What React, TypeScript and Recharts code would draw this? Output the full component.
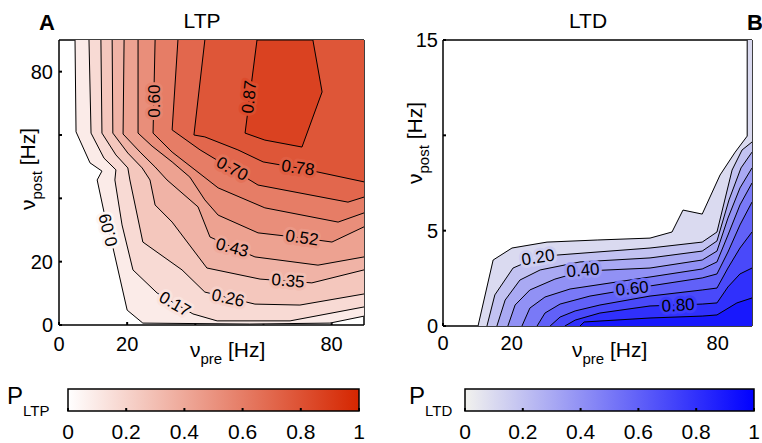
import React from 'react';
import { ScatterChart, Scatter, XAxis, YAxis, ReferenceArea } from 'recharts';

const FONT = '"Liberation Sans", Arial, Helvetica, sans-serif';

type Pt = { x: number; y: number };
type Lbl = { x: number; y: number; text: string; angle: number };

// ---------------- Panel A : LTP ----------------
const ltpXDomain: [number, number] = [0, 89.5];
const ltpYDomain: [number, number] = [0, 90];
const ltpXTicks = [0, 20, 40, 60, 80];
const ltpYTicks = [0, 20, 40, 60, 80];
const ltpXShown = [0, 20, 80];
const ltpYShown = [0, 20, 80];
const ltpLevels = [0.09, 0.17, 0.26, 0.35, 0.43, 0.52, 0.6, 0.7, 0.78, 0.87];

const ltp009: Pt[] = [
  { x: 4.7, y: 90 }, { x: 5.0, y: 61.0 }, { x: 9.1, y: 51.2 }, { x: 12.6, y: 48.6 }, { x: 11.2, y: 45.8 },
  { x: 13.2, y: 35.7 }, { x: 15.8, y: 24.6 }, { x: 20.0, y: 4.7 }, { x: 24.6, y: 0.6 }, { x: 56.0, y: 0.3 },
  { x: 79.5, y: 0.6 }, { x: 89.5, y: 2.8 },
];
const ltp017: Pt[] = [
  { x: 8.8, y: 90 }, { x: 9.4, y: 60.6 }, { x: 13.2, y: 52.7 }, { x: 16.7, y: 49.0 }, { x: 16.4, y: 45.8 },
  { x: 18.5, y: 31.6 }, { x: 21.7, y: 17.4 }, { x: 28.8, y: 10.1 }, { x: 39.3, y: 3.5 }, { x: 46.4, y: 1.3 },
  { x: 67.8, y: 1.3 }, { x: 89.5, y: 5.7 },
];
const ltp026: Pt[] = [
  { x: 12.3, y: 90 }, { x: 12.6, y: 60.6 }, { x: 16.7, y: 53.7 }, { x: 20.2, y: 49.6 }, { x: 20.8, y: 45.8 },
  { x: 24.6, y: 26.2 }, { x: 36.1, y: 17.4 }, { x: 42.8, y: 10.4 }, { x: 57.5, y: 6.6 }, { x: 70.7, y: 6.3 },
  { x: 89.5, y: 9.8 },
];
const ltp035: Pt[] = [
  { x: 15.6, y: 90 }, { x: 15.8, y: 60.6 }, { x: 20.2, y: 54.3 }, { x: 24.4, y: 49.6 }, { x: 26.7, y: 45.8 },
  { x: 28.2, y: 37.9 }, { x: 33.2, y: 32.5 }, { x: 43.4, y: 18.0 }, { x: 59.0, y: 14.5 }, { x: 74.2, y: 13.3 },
  { x: 89.5, y: 17.4 },
];
const ltp043: Pt[] = [
  { x: 19.1, y: 90 }, { x: 18.8, y: 60.3 }, { x: 23.8, y: 54.6 }, { x: 28.2, y: 49.9 }, { x: 31.7, y: 45.8 },
  { x: 40.8, y: 37.3 }, { x: 44.3, y: 27.8 }, { x: 50.8, y: 24.6 }, { x: 57.5, y: 21.5 }, { x: 76.0, y: 18.9 },
  { x: 89.5, y: 21.5 },
];
const ltp052: Pt[] = [
  { x: 23.2, y: 90 }, { x: 23.2, y: 60.6 }, { x: 27.3, y: 56.5 }, { x: 33.2, y: 51.5 }, { x: 38.4, y: 46.7 },
  { x: 42.8, y: 39.5 }, { x: 46.7, y: 34.7 }, { x: 58.4, y: 29.1 }, { x: 71.3, y: 27.5 }, { x: 80.1, y: 26.2 },
  { x: 89.5, y: 31.0 },
];
const ltp060: Pt[] = [
  { x: 28.2, y: 90 }, { x: 27.6, y: 60.6 }, { x: 33.2, y: 54.6 }, { x: 39.9, y: 49.0 }, { x: 46.7, y: 43.3 },
  { x: 60.4, y: 37.0 }, { x: 81.9, y: 32.5 }, { x: 89.5, y: 35.4 },
];
const ltp070: Pt[] = [
  { x: 34.9, y: 90 }, { x: 33.2, y: 61.6 }, { x: 41.4, y: 55.3 }, { x: 51.1, y: 49.0 }, { x: 58.4, y: 44.2 },
  { x: 84.8, y: 38.8 }, { x: 89.5, y: 40.4 },
];
const ltp078: Pt[] = [
  { x: 42.8, y: 90 }, { x: 39.6, y: 60.0 }, { x: 42.8, y: 59.4 }, { x: 52.5, y: 55.3 }, { x: 59.9, y: 51.5 },
  { x: 70.1, y: 49.6 }, { x: 76.0, y: 48.3 }, { x: 89.5, y: 45.2 },
];
const ltp087: Pt[] = [
  { x: 58.1, y: 90 }, { x: 54.6, y: 60.6 }, { x: 60.4, y: 58.4 }, { x: 71.3, y: 56.2 }, { x: 77.2, y: 73.6 },
  { x: 74.5, y: 90 },
];
const ltpOpenLines = [ltp009, ltp017, ltp026, ltp035, ltp043, ltp052, ltp060, ltp070, ltp078];

const ltpLabels: Lbl[] = [
  { x: 14.5, y: 30.0, text: '0.09', angle: -104 },
  { x: 34.0, y: 6.6, text: '0.17', angle: 30 },
  { x: 49.6, y: 8.5, text: '0.26', angle: 12 },
  { x: 67.2, y: 13.9, text: '0.35', angle: 5 },
  { x: 50.8, y: 24.4, text: '0.43', angle: 15 },
  { x: 71.3, y: 27.5, text: '0.52', angle: 8 },
  { x: 27.9, y: 70.7, text: '0.60', angle: -90 },
  { x: 50.8, y: 49.3, text: '0.70', angle: 28 },
  { x: 70.1, y: 49.6, text: '0.78', angle: 8 },
  { x: 55.8, y: 72.0, text: '0.87', angle: -84 },
];

// ---------------- Panel B : LTD ----------------
const ltdXDomain: [number, number] = [0, 90];
const ltdYDomain: [number, number] = [0, 15];
const ltdXTicks = [0, 20, 40, 60, 80];
const ltdYTicks = [0, 5, 10, 15];
const ltdXShown = [0, 20, 80];
const ltdYShown = [0, 5, 15];
const ltdLevels = [0.1, 0.2, 0.3, 0.4, 0.5, 0.6, 0.7, 0.8, 0.9];

const ltd01: Pt[] = [
  { x: 10.2, y: 0 }, { x: 14.6, y: 3.46 }, { x: 20.1, y: 4.09 }, { x: 30.3, y: 4.4 }, { x: 44.9, y: 4.51 },
  { x: 60.3, y: 4.61 }, { x: 66.7, y: 4.93 }, { x: 69.9, y: 6.08 }, { x: 75.5, y: 5.87 }, { x: 80.7, y: 7.92 },
  { x: 85.1, y: 9.12 }, { x: 88.6, y: 9.96 }, { x: 88.6, y: 15 },
];
const ltd02: Pt[] = [
  { x: 12.8, y: 0 }, { x: 15.1, y: 1.63 }, { x: 20.4, y: 3.04 }, { x: 24.5, y: 3.36 }, { x: 33.2, y: 3.72 },
  { x: 60.3, y: 4.09 }, { x: 75.5, y: 4.4 }, { x: 79.8, y: 4.93 }, { x: 84.2, y: 8.18 }, { x: 87.1, y: 9.23 },
  { x: 90, y: 9.65 },
];
const ltd03: Pt[] = [
  { x: 15.7, y: 0 }, { x: 18.1, y: 1.36 }, { x: 22.4, y: 2.41 }, { x: 28.3, y: 2.94 }, { x: 39.9, y: 3.36 },
  { x: 60.3, y: 3.57 }, { x: 75.5, y: 3.93 }, { x: 79.8, y: 4.46 }, { x: 83.3, y: 6.61 }, { x: 86.8, y: 8.29 },
  { x: 90, y: 9.12 },
];
const ltd04: Pt[] = [
  { x: 18.9, y: 0 }, { x: 21.0, y: 1.1 }, { x: 25.3, y: 1.89 }, { x: 32.6, y: 2.46 }, { x: 40.8, y: 2.88 },
  { x: 60.3, y: 3.04 }, { x: 75.5, y: 3.46 }, { x: 79.8, y: 3.93 }, { x: 83.0, y: 5.66 }, { x: 86.5, y: 7.24 },
  { x: 90, y: 8.29 },
];
const ltd05: Pt[] = [
  { x: 23.0, y: 0 }, { x: 25.3, y: 0.94 }, { x: 29.7, y: 1.52 }, { x: 37.0, y: 1.94 }, { x: 60.3, y: 2.57 },
  { x: 75.5, y: 2.99 }, { x: 79.8, y: 3.36 }, { x: 83.0, y: 4.77 }, { x: 86.5, y: 6.35 }, { x: 90, y: 7.5 },
];
const ltd06: Pt[] = [
  { x: 27.4, y: 0 }, { x: 29.7, y: 0.68 }, { x: 34.1, y: 1.15 }, { x: 42.8, y: 1.57 }, { x: 60.3, y: 2.1 },
  { x: 75.5, y: 2.52 }, { x: 79.8, y: 2.73 }, { x: 83.0, y: 3.88 }, { x: 86.5, y: 5.3 }, { x: 90, y: 6.5 },
];
const ltd07: Pt[] = [
  { x: 31.2, y: 0 }, { x: 34.1, y: 0.47 }, { x: 38.5, y: 0.79 }, { x: 45.7, y: 1.1 }, { x: 60.3, y: 1.57 },
  { x: 75.5, y: 1.89 }, { x: 79.8, y: 1.99 }, { x: 83.0, y: 3.04 }, { x: 86.5, y: 4.09 }, { x: 90, y: 4.93 },
];
const ltd08: Pt[] = [
  { x: 35.5, y: 0 }, { x: 38.5, y: 0.31 }, { x: 45.7, y: 0.68 }, { x: 60.3, y: 1.05 }, { x: 75.5, y: 1.15 },
  { x: 79.8, y: 1.21 }, { x: 83.0, y: 2.05 }, { x: 86.5, y: 2.73 }, { x: 90, y: 3.04 },
];
const ltd09: Pt[] = [
  { x: 39.9, y: 0 }, { x: 41.1, y: 0.21 }, { x: 60.3, y: 0.42 }, { x: 75.5, y: 0.52 }, { x: 79.8, y: 0.58 },
  { x: 85.6, y: 1.21 }, { x: 90, y: 1.47 },
];
const ltdLines = [ltd01, ltd02, ltd03, ltd04, ltd05, ltd06, ltd07, ltd08, ltd09];

const ltdLabels: Lbl[] = [
  { x: 27.7, y: 3.6, text: '0.20', angle: -9 },
  { x: 40.8, y: 2.92, text: '0.40', angle: -5 },
  { x: 55.1, y: 1.97, text: '0.60', angle: -6 },
  { x: 68.5, y: 1.08, text: '0.80', angle: -4 },
];

// ---------------- colour bars ----------------
const cbTicks = [0, 0.2, 0.4, 0.6, 0.8, 1];
const cbFrame: Pt[] = [{ x: 0, y: 0 }, { x: 1, y: 1 }];

// ---------------- colour maps ----------------
const ltpColor = (t: number) =>
  `rgb(${Math.round(255 - 42 * t)},${Math.round(255 - 217 * t)},${Math.round(255 - 255 * t)})`;
const ltdColor = (t: number) =>
  `rgb(${Math.round(242 * (1 - t))},${Math.round(242 * (1 - t))},${Math.round(238 + 17 * t)})`;

// ---------------- helpers ----------------
const noPoint = () => <g />;

const pathFrom = (pts: { x: number; y: number }[], close: boolean) =>
  pts.map((p, i) => `${i === 0 ? 'M' : 'L'}${p.x},${p.y}`).join(' ') + (close ? ' Z' : '');

const fillLine = (fill: string) => (props: any) => {
  const pts = props.points || [];
  if (!pts.length) return <g />;
  return <path d={pathFrom(pts, true)} fill={fill} stroke={fill} strokeWidth={0.4} />;
};
const strokeLine = (closed: boolean) => (props: any) => {
  const pts = props.points || [];
  if (!pts.length) return <g />;
  return <path d={pathFrom(pts, closed)} fill="none" stroke="#000" strokeWidth={1} strokeLinejoin="round" />;
};

const makeLabelShape = (levels: number[], color: (t: number) => string) => (props: any) => {
  const { cx, cy, payload } = props;
  if (cx == null || cy == null || !payload) return <g />;
  const v = parseFloat(payload.text);
  let idx = 0;
  levels.forEach((l, i) => { if (Math.abs(l - v) < 1e-6) idx = i; });
  const prev = idx > 0 ? levels[idx - 1] : 0;
  const halo = color((prev + levels[idx]) / 2);
  return (
    <text
      x={cx}
      y={cy}
      transform={`rotate(${payload.angle} ${cx} ${cy})`}
      textAnchor="middle"
      dominantBaseline="central"
      fontSize={17}
      fontFamily={FONT}
      fill="#000"
      stroke={halo}
      strokeWidth={6}
      strokeLinejoin="round"
      paintOrder="stroke"
    >
      {payload.text}
    </text>
  );
};

const tickStyle = { fill: '#000', fontSize: 20, fontFamily: FONT };
const axisLineStyle = { stroke: '#000', strokeWidth: 1.5 };
const tickLineStyle = { stroke: '#000', strokeWidth: 2 };

type Region = { data: Pt[]; fill: string };
type Line = { data: Pt[]; closed: boolean };

function ContourChart(props: {
  width: number; height: number; margin: any; yAxisWidth: number;
  xDomain: [number, number]; yDomain: [number, number];
  xTicks: number[]; yTicks: number[]; xShown: number[]; yShown: number[];
  regions: Region[]; lines: Line[]; labels: Lbl[]; labelShape: any;
  xTickMargin: number; yTickMargin: number;
}) {
  const p = props;
  return (
    <ScatterChart width={p.width} height={p.height} margin={p.margin}>
      {p.regions.map((r, i) => (
        <Scatter key={'reg' + i} data={r.data} dataKey="y" line={fillLine(r.fill)} shape={noPoint} isAnimationActive={false} />
      ))}
      {p.lines.map((l, i) => (
        <Scatter key={'lin' + i} data={l.data} dataKey="y" line={strokeLine(l.closed)} shape={noPoint} isAnimationActive={false} />
      ))}
      <Scatter data={p.labels} dataKey="y" shape={p.labelShape} isAnimationActive={false} />
      <XAxis
        type="number" dataKey="x" domain={p.xDomain} allowDataOverflow ticks={p.xTicks} interval={0}
        tickFormatter={(v: number) => (p.xShown.includes(v) ? String(v) : '')}
        tick={tickStyle} tickSize={-3} tickMargin={p.xTickMargin} axisLine={axisLineStyle} tickLine={tickLineStyle} height={30}
      />
      <XAxis
        xAxisId="top" orientation="top" type="number" domain={p.xDomain} allowDataOverflow ticks={p.xTicks} interval={0}
        tick={false} tickSize={-3} axisLine={axisLineStyle} tickLine={tickLineStyle} height={1}
      />
      <YAxis
        type="number" dataKey="y" domain={p.yDomain} allowDataOverflow ticks={p.yTicks} interval={0}
        tickFormatter={(v: number) => (p.yShown.includes(v) ? String(v) : '')}
        tick={tickStyle} tickSize={-3} tickMargin={p.yTickMargin} axisLine={axisLineStyle} tickLine={tickLineStyle} width={p.yAxisWidth}
      />
      <YAxis
        yAxisId="right" orientation="right" type="number" domain={p.yDomain} allowDataOverflow ticks={p.yTicks} interval={0}
        tick={false} tickSize={-3} axisLine={axisLineStyle} tickLine={tickLineStyle} width={1}
      />
    </ScatterChart>
  );
}

function ColorBar(props: { width: number; height: number; margin: any; gradId: string }) {
  const p = props;
  return (
    <ScatterChart width={p.width} height={p.height} margin={p.margin}>
      <Scatter data={cbFrame} dataKey="y" shape={noPoint} isAnimationActive={false} />
      <ReferenceArea x1={0} x2={1} y1={0} y2={1} fill={`url(#${p.gradId})`} fillOpacity={1} stroke="#000" strokeWidth={1.5} ifOverflow="visible" />
      <XAxis
        type="number" dataKey="x" domain={[0, 1]} allowDataOverflow ticks={cbTicks} interval={0}
        tickFormatter={(v: number) => String(v)}
        tick={{ fill: '#000', fontSize: 21, fontFamily: FONT }} tickSize={-3} tickMargin={16}
        axisLine={false} tickLine={tickLineStyle} height={30}
      />
      <XAxis
        xAxisId="top" orientation="top" type="number" domain={[0, 1]} allowDataOverflow ticks={cbTicks} interval={0}
        tick={false} tickSize={-3} axisLine={false} tickLine={tickLineStyle} height={1}
      />
      <YAxis type="number" dataKey="y" domain={[0, 1]} allowDataOverflow hide />
    </ScatterChart>
  );
}

export default function App() {
  const ltpRegions: Region[] = [
    ...ltpOpenLines.map((line, i) => ({
      data: [...line, { x: ltpXDomain[1], y: ltpYDomain[1] }],
      fill: ltpColor(ltpLevels[i]),
    })),
    { data: ltp087, fill: ltpColor(ltpLevels[9]) },
  ];
  const ltpStrokes: Line[] = [
    ...ltpOpenLines.map((line) => ({ data: line, closed: false })),
    { data: ltp087, closed: true },
  ];

  const ltdRegions: Region[] = ltdLines.map((line, i) => {
    const last = line[line.length - 1];
    const extra: Pt[] = last.x < ltdXDomain[1] ? [{ x: ltdXDomain[1], y: last.y }] : [];
    return {
      data: [...line, ...extra, { x: ltdXDomain[1], y: ltdYDomain[0] }],
      fill: ltdColor(ltdLevels[i]),
    };
  });
  const ltdStrokes: Line[] = ltdLines.map((line) => ({ data: line, closed: false }));

  return (
    <div style={{ position: 'absolute', left: 0, top: 0, width: 762, height: 443, overflow: 'hidden', background: '#fff', fontFamily: FONT }}>
      <svg width={0} height={0} style={{ position: 'absolute' }}>
        <defs>
          <linearGradient id="gradLTP" x1="0" y1="0" x2="1" y2="0">
            <stop offset="0" stopColor={ltpColor(0)} />
            <stop offset="1" stopColor={ltpColor(1)} />
          </linearGradient>
          <linearGradient id="gradLTD" x1="0" y1="0" x2="1" y2="0">
            <stop offset="0" stopColor={ltdColor(0)} />
            <stop offset="1" stopColor={ltdColor(1)} />
          </linearGradient>
        </defs>
      </svg>

      <div style={{ position: 'absolute', left: 0, top: 0 }}>
        <ContourChart
          width={380} height={370} margin={{ top: 39, right: 15, left: 19, bottom: 15 }} yAxisWidth={40}
          xDomain={ltpXDomain} yDomain={ltpYDomain} xTicks={ltpXTicks} yTicks={ltpYTicks}
          xShown={ltpXShown} yShown={ltpYShown}
          regions={ltpRegions} lines={ltpStrokes} labels={ltpLabels}
          labelShape={makeLabelShape(ltpLevels, ltpColor)} xTickMargin={15} yTickMargin={9}
        />
      </div>
      <div style={{ position: 'absolute', left: 380, top: 0 }}>
        <ContourChart
          width={382} height={370} margin={{ top: 39, right: 9, left: 23, bottom: 14 }} yAxisWidth={40}
          xDomain={ltdXDomain} yDomain={ltdYDomain} xTicks={ltdXTicks} yTicks={ltdYTicks}
          xShown={ltdXShown} yShown={ltdYShown}
          regions={ltdRegions} lines={ltdStrokes} labels={ltdLabels}
          labelShape={makeLabelShape(ltdLevels, ltdColor)} xTickMargin={13} yTickMargin={8}
        />
      </div>
      <div style={{ position: 'absolute', left: 0, top: 370 }}>
        <ColorBar width={380} height={73} margin={{ top: 18, right: 21, left: 68, bottom: 2 }} gradId="gradLTP" />
      </div>
      <div style={{ position: 'absolute', left: 380, top: 370 }}>
        <ColorBar width={382} height={73} margin={{ top: 18, right: 8, left: 85, bottom: 2 }} gradId="gradLTD" />
      </div>

      <svg width={762} height={443} style={{ position: 'absolute', left: 0, top: 0, pointerEvents: 'none' }} fontFamily={FONT}>
        <text x={39} y={30} fontSize={22} fontWeight="bold" fill="#000">A</text>
        <text x={747} y={30} fontSize={22} fontWeight="bold" fill="#000">B</text>
        <text x={202} y={28} fontSize={21} textAnchor="middle" fill="#000">LTP</text>
        <text x={588} y={28} fontSize={21} textAnchor="middle" fill="#000">LTD</text>

        <text x={190} y={357} fontSize={21} fill="#000">
          ν<tspan fontSize={15} dy={7}>pre</tspan><tspan dy={-7}>{'\u00A0[Hz]'}</tspan>
        </text>
        <text x={572} y={357} fontSize={21} fill="#000">
          ν<tspan fontSize={15} dy={7}>pre</tspan><tspan dy={-7}>{'\u00A0[Hz]'}</tspan>
        </text>

        <text x={35} y={210} fontSize={21} fill="#000" transform="rotate(-90 35 210)">
          ν<tspan fontSize={15} dy={7}>post</tspan><tspan dy={-7}>{'\u00A0[Hz]'}</tspan>
        </text>
        <text x={422} y={184} fontSize={21} fill="#000" transform="rotate(-90 422 184)">
          ν<tspan fontSize={15} dy={7}>post</tspan><tspan dy={-7}>{'\u00A0[Hz]'}</tspan>
        </text>

        <text x={7} y={404} fontSize={24} fill="#000">
          P<tspan fontSize={15} dy={12}>LTP</tspan>
        </text>
        <text x={409} y={404} fontSize={24} fill="#000">
          P<tspan fontSize={15} dy={12}>LTD</tspan>
        </text>
      </svg>
    </div>
  );
}
